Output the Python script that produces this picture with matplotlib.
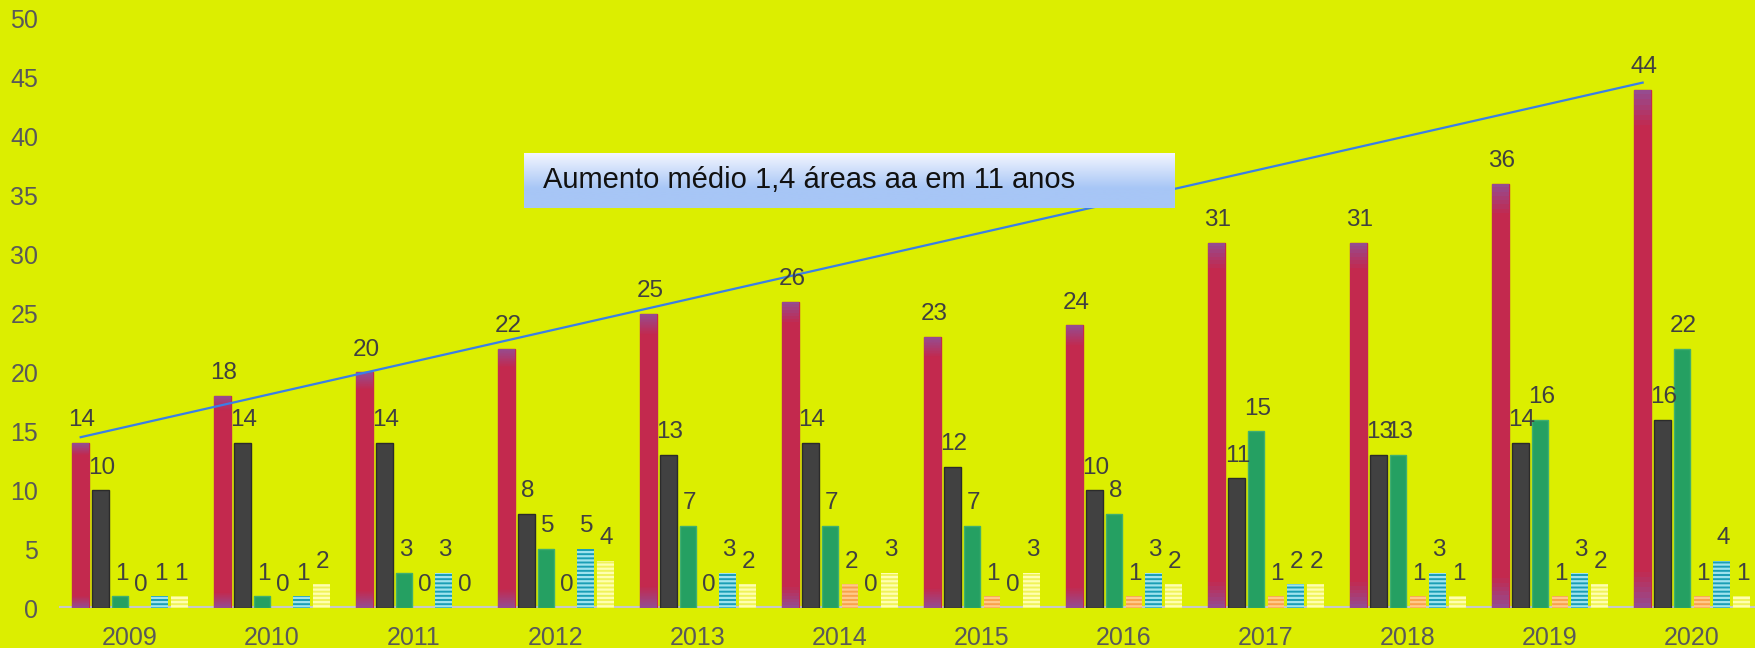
import numpy as np
import matplotlib.pyplot as plt
from matplotlib.colors import to_rgb

plt.rcParams['font.family'] = ['Liberation Sans', 'DejaVu Sans']
plt.rcParams['hatch.linewidth'] = 1.6

anos = ['2009', '2010', '2011', '2012', '2013', '2014',
        '2015', '2016', '2017', '2018', '2019', '2020']

serie1 = [14, 18, 20, 22, 25, 26, 23, 24, 31, 31, 36, 44]
serie2 = [10, 14, 14, 8, 13, 14, 12, 10, 11, 13, 14, 16]
serie3 = [1, 1, 3, 5, 7, 7, 7, 8, 15, 13, 16, 22]
serie4 = [0, 0, 0, 0, 0, 2, 1, 1, 1, 1, 1, 1]
serie5 = [1, 1, 3, 5, 3, 0, 0, 3, 2, 3, 3, 4]
serie6 = [1, 2, 0, 4, 2, 3, 3, 2, 2, 1, 2, 1]

# linha de tendencia (inicio em 2009, fim em 2020)
tendencia = [14.5, 44.6]

texto = 'Aumento médio 1,4 áreas aa em 11 anos'

fundo = '#DCEE00'
series = [serie1, serie2, serie3, serie4, serie5, serie6]
cores = ['#C3294E', '#414141', '#25A062', '#F9A24A', '#1A9EB5', '#F0F35A']
bordas = ['#C3294E', '#2B2B2B', '#3FAF70', '#FFC98A', '#9FE3EE', '#FFFFB0']
hachuras = [None, None, None, '----', '----', '----']

fig = plt.figure(figsize=(17.56, 6.48), dpi=100, facecolor=fundo)
ax = fig.add_axes([59 / 1756, 40 / 648, 1697 / 1756, 589 / 648])
ax.set_facecolor(fundo)

x = np.arange(len(anos))
larg = 0.116
passo = 0.139

for j, (vals, cor, borda, hach) in enumerate(zip(series, cores, bordas, hachuras)):
    pos = x + (j - 2.5) * passo
    lw = 0 if hach else 1.0
    barras = ax.bar(pos, vals, width=larg, color=cor, edgecolor=borda,
                    linewidth=lw, hatch=hach, zorder=2)
    if j == 0:
        # degrade arroxeado nas pontas das barras vermelhas
        grad = np.zeros((100, 1, 4))
        grad[..., :3] = to_rgb('#8B55A0')
        t = np.linspace(0, 1, 100)
        alfa = np.clip(1 - np.minimum(t, 1 - t) / 0.07, 0, 1) * 0.8
        grad[:, 0, 3] = alfa
        for b in barras:
            im = ax.imshow(grad, extent=[b.get_x(), b.get_x() + b.get_width(),
                                         0, b.get_height()],
                           aspect='auto', origin='lower', zorder=3)
            im.set_clip_path(b)
    for xi, v in zip(pos, vals):
        ax.annotate(str(v), (xi, v), xytext=(1, 12), textcoords='offset points',
                    ha='center', va='baseline', fontsize=17.5, color='#404040',
                    zorder=5)

# linha de aumento medio
x_red = x - 2.5 * passo
ax.plot([x_red[0], x_red[-1]], tendencia, color='#3A7FE8', lw=1.6, zorder=4)

ax.axhline(0, color='#C8C8C8', lw=3, zorder=1)

ax.set_xlim(-0.5, -0.5 + 1697 / 142)
ax.set_ylim(0, 50)
ax.set_yticks(range(0, 51, 5))
ax.set_xticks(x)
ax.set_xticklabels(anos)
ax.tick_params(length=0, labelsize=18, colors='#595959')
ax.tick_params(axis='x', pad=13)
ax.tick_params(axis='y', pad=15)
for s in ax.spines.values():
    s.set_visible(False)

# caixa de texto com degrade
axt = fig.add_axes([524 / 1756, (648 - 208) / 648, 650 / 1756, 55 / 648])
topo = np.array(to_rgb('#F6F7FF'))
base = np.array(to_rgb('#A7C6F6'))
s = np.linspace(0, 1, 100)[:, None]
s = np.clip(s / 0.65, 0, 1)
img = (topo * (1 - s) + base * s)[:, None, :]
axt.imshow(img, aspect='auto', extent=[0, 1, 1, 0])
axt.set_xlim(0, 1)
axt.set_ylim(1, 0)
axt.axis('off')
axt.text(19 / 650, 0.5, texto, ha='left', va='center', fontsize=21,
         color='#111111')

plt.savefig('out.png', dpi=100, facecolor=fundo)
